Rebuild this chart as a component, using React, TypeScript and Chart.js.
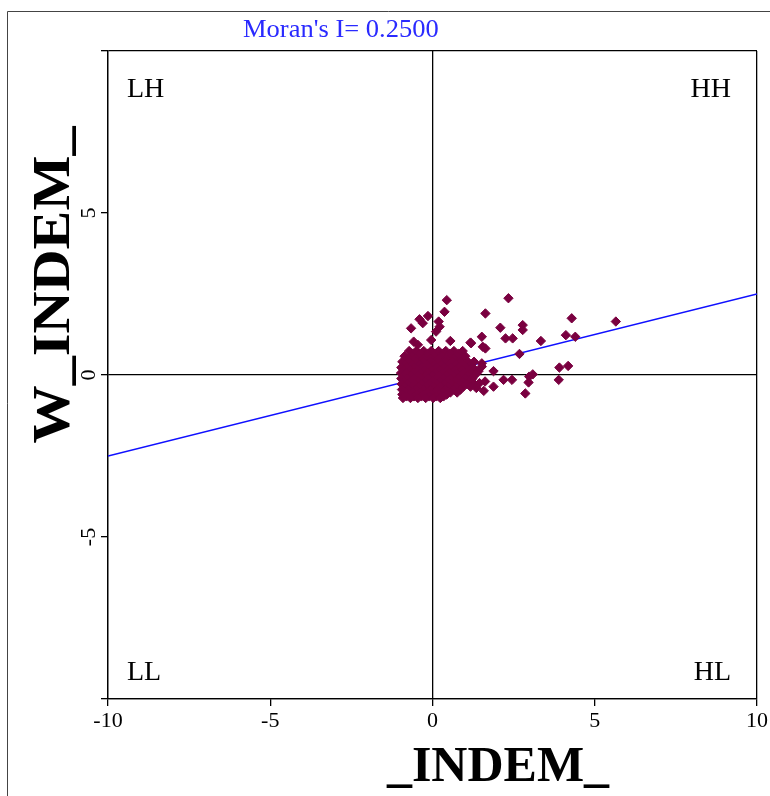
import React, { useEffect, useRef } from "react";
import { Chart, registerables } from "chart.js";

Chart.register(...registerables);

// ---- data ----
const moranI = 0.25;
const axisMin = -10;
const axisMax = 10;
const tickStep = 5;
const titleText = "Moran's I= 0.2500";
const xTitle = "_INDEM_";
const yTitle = "W_INDEM_";
const quadrantLabels = ["LH", "HH", "LL", "HL"];

// dense cluster around the origin
const corePoints: [number, number][] = [
  [-0.72, 0.74], [-0.5, 0.74], [-0.27, 0.74], [-0.04, 0.74], [0.19, 0.74], [0.41, 0.74], [0.66, 0.74], [0.93, 0.74],
  [-0.61, 0.66], [-0.38, 0.66], [-0.15, 0.66], [0.08, 0.66], [0.3, 0.66], [0.54, 0.66], [0.8, 0.66],
  [-0.86, 0.58], [-0.63, 0.58], [-0.41, 0.58], [-0.16, 0.58], [0.07, 0.58], [0.29, 0.58], [0.53, 0.58], [0.76, 0.58], [1.01, 0.58],
  [-0.75, 0.5], [-0.52, 0.5], [-0.29, 0.5], [-0.05, 0.5], [0.18, 0.5], [0.41, 0.5], [0.65, 0.5], [0.88, 0.5],
  [-0.93, 0.41], [-0.73, 0.41], [-0.51, 0.41], [-0.29, 0.41], [-0.06, 0.41], [0.17, 0.41], [0.39, 0.41], [0.62, 0.41], [0.86, 0.41], [1.09, 0.41], [1.28, 0.41],
  [-0.84, 0.32], [-0.62, 0.32], [-0.4, 0.32], [-0.17, 0.32], [0.05, 0.32], [0.28, 0.32], [0.5, 0.32], [0.73, 0.32], [0.96, 0.32], [1.18, 0.32],
  [-0.96, 0.23], [-0.79, 0.23], [-0.56, 0.23], [-0.33, 0.23], [-0.11, 0.23], [0.13, 0.23], [0.36, 0.23], [0.57, 0.23], [0.81, 0.23], [1.04, 0.23], [1.24, 0.23],
  [-0.89, 0.15], [-0.68, 0.15], [-0.46, 0.15], [-0.24, 0.15], [-0.02, 0.15], [0.22, 0.15], [0.46, 0.15], [0.69, 0.15], [0.92, 0.15], [1.14, 0.15],
  [-0.97, 0.06], [-0.81, 0.06], [-0.59, 0.06], [-0.37, 0.06], [-0.15, 0.06], [0.08, 0.06], [0.31, 0.06], [0.52, 0.06], [0.74, 0.06], [0.97, 0.06], [1.19, 0.06], [1.36, 0.06],
  [-0.88, -0.02], [-0.66, -0.02], [-0.44, -0.02], [-0.22, -0.02], [0.0, -0.02], [0.2, -0.02], [0.42, -0.02], [0.64, -0.02], [0.87, -0.02], [1.09, -0.02], [1.29, -0.02],
  [-0.96, -0.11], [-0.78, -0.11], [-0.57, -0.11], [-0.35, -0.11], [-0.13, -0.11], [0.11, -0.11], [0.33, -0.11], [0.56, -0.11], [0.79, -0.11], [1.01, -0.11], [1.23, -0.11],
  [-0.88, -0.2], [-0.67, -0.2], [-0.45, -0.2], [-0.23, -0.2], [0.0, -0.2], [0.23, -0.2], [0.46, -0.2], [0.69, -0.2], [0.92, -0.2], [1.14, -0.2],
  [-0.95, -0.28], [-0.77, -0.28], [-0.55, -0.28], [-0.33, -0.28], [-0.1, -0.28], [0.13, -0.28], [0.36, -0.28], [0.59, -0.28], [0.83, -0.28], [1.06, -0.28], [1.29, -0.28],
  [-0.86, -0.36], [-0.64, -0.36], [-0.42, -0.36], [-0.2, -0.36], [0.02, -0.36], [0.25, -0.36], [0.48, -0.36], [0.72, -0.36], [0.95, -0.36], [1.17, -0.36],
  [-0.94, -0.45], [-0.73, -0.45], [-0.51, -0.45], [-0.28, -0.45], [-0.06, -0.45], [0.16, -0.45], [0.41, -0.45], [0.64, -0.45], [0.86, -0.45],
  [-0.83, -0.54], [-0.61, -0.54], [-0.38, -0.54], [-0.15, -0.54], [0.08, -0.54], [0.32, -0.54], [0.55, -0.54], [0.76, -0.54],
  [-0.93, -0.6], [-0.71, -0.6], [-0.49, -0.6], [-0.26, -0.6], [-0.03, -0.6], [0.21, -0.6], [0.44, -0.6],
  [-0.8, -0.66], [-0.57, -0.66], [-0.34, -0.66], [-0.1, -0.66], [0.12, -0.66], [0.34, -0.66],
  [-0.91, -0.71], [-0.68, -0.71], [-0.45, -0.71], [-0.21, -0.71], [0.02, -0.71], [0.24, -0.71],
];

// points above the cluster
const upperPoints: [number, number][] = [
  [-0.58, 1.03], [-0.45, 0.93], [-0.04, 1.08], [0.55, 1.05], [1.17, 1.0],
  [0.11, 1.34], [0.19, 1.65], [0.22, 1.49], [-0.14, 1.82], [-0.4, 1.72],
  [-0.3, 1.6], [-0.66, 1.44], [0.44, 2.31], [0.37, 1.95],
];

// points spreading to the right
const eastPoints: [number, number][] = [
  [2.34, 2.37], [1.63, 1.9], [2.09, 1.46], [2.78, 1.54], [2.78, 1.39],
  [1.52, 1.18], [2.25, 1.13], [2.47, 1.13], [1.55, 0.87], [1.63, 0.82],
  [1.19, 0.98], [4.29, 1.75], [5.65, 1.65], [4.11, 1.23], [4.4, 1.18],
  [3.34, 1.05], [2.68, 0.65], [3.91, 0.23], [4.18, 0.28], [3.09, 0.02],
  [2.98, -0.05], [3.89, -0.15], [2.19, -0.15], [2.45, -0.15], [2.96, -0.23],
  [1.88, 0.12], [1.88, -0.36], [1.58, -0.49], [2.86, -0.57], [1.62, -0.2],
  [1.52, 0.36], [1.52, 0.26], [1.42, 0.12], [1.45, -0.25], [1.35, -0.4],
];

const pointColor = "#7a0040";
const serif = "'Liberation Serif', 'Times New Roman', serif";

export default function App() {
  const ref = useRef<HTMLCanvasElement | null>(null);

  useEffect(() => {
    document.body.style.margin = "0";
    const canvas = ref.current;
    if (!canvas) return;

    const scatter = [...corePoints, ...upperPoints, ...eastPoints].map(([x, y]) => ({ x, y }));
    const fitLine = [axisMin, axisMax].map((x) => ({ x, y: moranI * x }));

    const isFrameOrZero = (v: number) => v === 0 || v === axisMin || v === axisMax;

    const textPlugin = {
      id: "moranText",
      beforeDraw(chart: any) {
        const { ctx } = chart;
        ctx.save();
        ctx.strokeStyle = "#444";
        ctx.lineWidth = 1;
        ctx.beginPath();
        ctx.moveTo(7.5, chart.height);
        ctx.lineTo(7.5, 11.5);
        ctx.lineTo(chart.width, 11.5);
        ctx.stroke();
        ctx.restore();
      },
      afterDraw(chart: any) {
        const { ctx, chartArea: a } = chart;
        ctx.save();
        ctx.fillStyle = "#2a2aff";
        ctx.font = `26px ${serif}`;
        ctx.textAlign = "left";
        ctx.textBaseline = "alphabetic";
        ctx.save();
        ctx.translate(a.left + 135, 37);
        ctx.scale(1.02, 1);
        ctx.fillText(titleText, 0, 0);
        ctx.restore();

        ctx.fillStyle = "#000";
        ctx.font = `28px ${serif}`;
        ctx.textAlign = "left";
        ctx.fillText(quadrantLabels[0], a.left + 19, a.top + 46);
        ctx.fillText(quadrantLabels[2], a.left + 19, a.bottom - 19);
        ctx.textAlign = "right";
        ctx.fillText(quadrantLabels[1], a.right - 26, a.top + 46);
        ctx.fillText(quadrantLabels[3], a.right - 26, a.bottom - 19);

        ctx.font = `bold 50px ${serif}`;
        ctx.textAlign = "center";
        ctx.fillText(xTitle, 498, 781);

        ctx.save();
        ctx.translate(69, 285);
        ctx.rotate(-Math.PI / 2);
        ctx.scale(1.12, 1);
        ctx.font = `bold 52px ${serif}`;
        ctx.textAlign = "center";
        ctx.fillText(yTitle, 0, 0);
        ctx.restore();
        ctx.restore();
      },
    };

    const chart = new Chart(canvas, {
      type: "scatter",
      data: {
        datasets: [
          {
            label: "points",
            data: scatter,
            pointStyle: "rectRot",
            pointRadius: 4.7,
            pointBackgroundColor: pointColor,
            pointBorderColor: pointColor,
            pointBorderWidth: 1,
          },
          {
            type: "line",
            label: "fit",
            data: fitLine,
            borderColor: "#1010ff",
            borderWidth: 1.3,
            pointRadius: 0,
            fill: false,
          },
        ],
      } as any,
      options: {
        animation: false,
        responsive: false,
        maintainAspectRatio: false,
        events: [],
        layout: { padding: { top: 51, right: 12, left: 0, bottom: 0 } },
        plugins: { legend: { display: false }, tooltip: { enabled: false }, title: { display: false } },
        scales: {
          x: {
            type: "linear",
            position: "bottom",
            min: axisMin,
            max: axisMax,
            afterFit: (s: any) => {
              s.height = 97;
            },
            ticks: {
              stepSize: tickStep,
              color: "#000",
              font: { family: serif, size: 22 },
              padding: 2,
              maxRotation: 0,
            },
            grid: {
              color: (c: any) => (isFrameOrZero(c.tick?.value) ? "#000" : "rgba(0,0,0,0)"),
              tickColor: "#000",
              tickLength: 7,
              lineWidth: 1.3,
            },
            border: { display: true, color: "#000", width: 1.3 },
          },
          y: {
            type: "linear",
            position: "left",
            min: axisMin,
            max: axisMax,
            afterFit: (s: any) => {
              s.width = 108;
            },
            ticks: {
              stepSize: tickStep,
              color: "#000",
              font: { family: serif, size: 22 },
              padding: 3,
              minRotation: 90,
              maxRotation: 90,
              crossAlign: "center",
              callback: (v: any) => (Math.abs(Number(v)) === axisMax ? "" : String(v)),
            },
            grid: {
              color: (c: any) => (isFrameOrZero(c.tick?.value) ? "#000" : "rgba(0,0,0,0)"),
              tickColor: "#000",
              tickLength: 7,
              lineWidth: 1.3,
            },
            border: { display: true, color: "#000", width: 1.3 },
          },
        },
      } as any,
      plugins: [textPlugin],
    });

    return () => chart.destroy();
  }, []);

  return <canvas ref={ref} width={770} height={796} style={{ display: "block" }} />;
}
